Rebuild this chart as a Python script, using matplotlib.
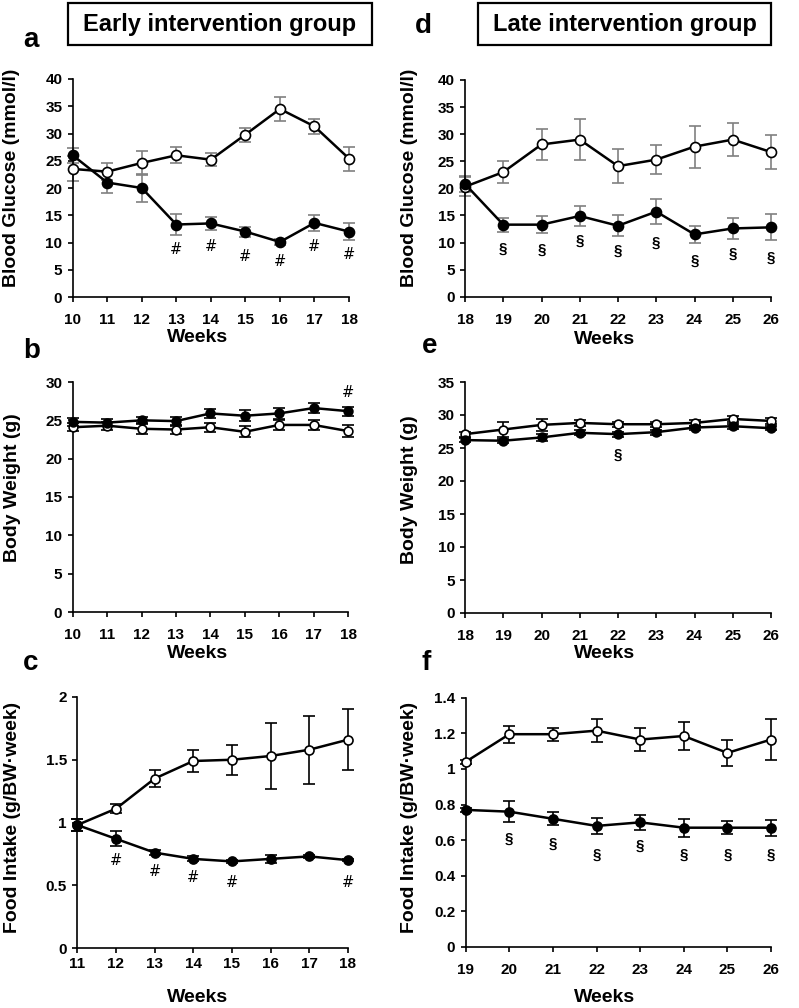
import numpy as np
import matplotlib
matplotlib.use('Agg')
import matplotlib.pyplot as plt
from matplotlib.patches import Rectangle
from matplotlib.ticker import FuncFormatter

plt.rcParams['font.family'] = ['Liberation Sans', 'DejaVu Sans']
plt.rcParams['font.weight'] = 'bold'

W, H = 799, 1008

# ── data ─────────────────────────────────────────────────────────────────────
# a: blood glucose, early group
weeks_a = [10, 11, 12, 13, 14, 15, 16, 17, 18]
gluc_open_a = [23.5, 23.0, 24.6, 26.0, 25.2, 29.8, 34.5, 31.3, 25.4]
gluc_open_a_err = [2.3, 1.5, 2.2, 1.5, 1.2, 1.3, 2.2, 1.4, 2.2]
gluc_fill_a = [26.0, 21.0, 20.0, 13.3, 13.5, 12.0, 10.1, 13.6, 12.0]
gluc_fill_a_err = [1.4, 2.0, 2.6, 1.9, 1.2, 0.9, 0.5, 1.5, 1.5]
sig_a_weeks = [13, 14, 15, 16, 17, 18]
sig_a_y = [8.7, 9.2, 7.5, 6.5, 9.2, 7.8]

# d: blood glucose, late group
weeks_d = [18, 19, 20, 21, 22, 23, 24, 25, 26]
gluc_open_d = [20.3, 23.0, 28.1, 29.0, 24.1, 25.3, 27.7, 29.0, 26.7]
gluc_open_d_err = [1.8, 2.1, 2.9, 3.8, 3.1, 2.7, 3.9, 3.0, 3.2]
gluc_fill_d = [20.8, 13.3, 13.3, 14.9, 13.1, 15.7, 11.5, 12.6, 12.8]
gluc_fill_d_err = [1.5, 1.3, 1.6, 1.8, 1.9, 2.3, 1.6, 1.9, 2.4]
sig_d_weeks = [19, 20, 21, 22, 23, 24, 25, 26]
sig_d_y = [8.8, 8.6, 10.4, 8.4, 10.0, 6.7, 8.0, 7.1]

# b: body weight, early group
bw_open_b = [24.1, 24.3, 23.9, 23.8, 24.1, 23.5, 24.4, 24.4, 23.6]
bw_open_b_err = [0.5, 0.5, 0.7, 0.6, 0.6, 0.7, 0.7, 0.7, 0.8]
bw_fill_b = [24.8, 24.7, 25.0, 24.9, 25.9, 25.6, 25.9, 26.6, 26.2]
bw_fill_b_err = [0.5, 0.5, 0.5, 0.6, 0.6, 0.7, 0.7, 0.7, 0.6]
sig_b_weeks = [18]
sig_b_y = [28.6]

# e: body weight, late group
bw_open_e = [27.1, 27.8, 28.5, 28.8, 28.6, 28.6, 28.8, 29.4, 29.1]
bw_open_e_err = [0.4, 1.2, 0.9, 0.4, 0.4, 0.4, 0.4, 0.5, 0.4]
bw_fill_e = [26.2, 26.1, 26.6, 27.3, 27.1, 27.4, 28.1, 28.3, 28.0]
bw_fill_e_err = [0.3, 0.3, 0.5, 0.4, 0.4, 0.4, 0.3, 0.4, 0.3]
sig_e_weeks = [22]
sig_e_y = [23.9]

# c: food intake, early group
weeks_c = [11, 12, 13, 14, 15, 16, 17, 18]
food_open_c = [0.98, 1.11, 1.35, 1.49, 1.50, 1.53, 1.58, 1.66]
food_open_c_err = [0.05, 0.035, 0.065, 0.09, 0.12, 0.265, 0.27, 0.245]
food_fill_c = [0.98, 0.87, 0.76, 0.71, 0.69, 0.71, 0.73, 0.70]
food_fill_c_err = [0.05, 0.06, 0.02, 0.02, 0.01, 0.035, 0.01, 0.01]
sig_c_weeks = [12, 13, 14, 15, 18]
sig_c_y = [0.70, 0.61, 0.56, 0.52, 0.52]

# f: food intake, late group
weeks_f = [19, 20, 21, 22, 23, 24, 25, 26]
food_open_f = [1.04, 1.195, 1.195, 1.215, 1.165, 1.185, 1.09, 1.165]
food_open_f_err = [0.01, 0.048, 0.037, 0.065, 0.065, 0.077, 0.073, 0.117]
food_fill_f = [0.77, 0.76, 0.72, 0.68, 0.70, 0.67, 0.67, 0.67]
food_fill_f_err = [0.01, 0.059, 0.037, 0.044, 0.042, 0.05, 0.038, 0.045]
sig_f_weeks = [20, 21, 22, 23, 24, 25, 26]
sig_f_y = [0.61, 0.58, 0.52, 0.57, 0.52, 0.52, 0.52]

fig = plt.figure(figsize=(W / 100, H / 100), dpi=100)


def px_axes(left, right, top, bottom):
    return fig.add_axes([left / W, 1 - bottom / H, (right - left) / W, (bottom - top) / H])


def fig_text(x, y, s, **kw):
    fig.text(x / W, 1 - y / H, s, **kw)


def draw_panel(ax, weeks, o, oe, f, fe, ylim, ystep, err_color, ms, sig_w, sig_y, sig_txt,
               label_pad):
    ax.errorbar(weeks, o, yerr=oe, fmt='none', ecolor=err_color, elinewidth=1.2,
                capsize=4, capthick=1.2, zorder=2, clip_on=False)
    ax.errorbar(weeks, f, yerr=fe, fmt='none', ecolor=err_color, elinewidth=1.2,
                capsize=4, capthick=1.2, zorder=2, clip_on=False)
    ax.plot(weeks, o, color='black', lw=1.8, marker='o', ms=ms, mfc='white',
            mec='black', mew=1.2, zorder=3, clip_on=False)
    ax.plot(weeks, f, color='black', lw=1.8, marker='o', ms=ms, mfc='black',
            mec='black', mew=1.2, zorder=4, clip_on=False)
    for w, y in zip(sig_w, sig_y):
        if sig_txt == '#':
            ax.text(w, y, '#', ha='center', va='center', fontsize=10.5,
                    fontweight='normal', family='DejaVu Sans')
        else:
            ax.text(w, y, '§', ha='center', va='center', fontsize=11, fontweight='bold')
    ax.set_xlim(weeks[0], weeks[-1])
    ax.set_ylim(*ylim)
    ax.set_xticks(weeks)
    ax.set_yticks(np.arange(ylim[0], ylim[1] + ystep / 2, ystep))
    ax.yaxis.set_major_formatter(FuncFormatter(lambda v, p: f'{v:g}'))
    for s in ['top', 'right']:
        ax.spines[s].set_visible(False)
    for s in ['left', 'bottom']:
        ax.spines[s].set_linewidth(1.2)
    ax.tick_params(axis='both', direction='out', length=3.5, width=1.2, labelsize=11)
    ax.tick_params(axis='y', pad=4)
    ax.tick_params(axis='x', pad=label_pad)
    for lab in ax.get_xticklabels() + ax.get_yticklabels():
        lab.set_fontweight('bold')
    ax.patch.set_alpha(0)


# ── panels ───────────────────────────────────────────────────────────────────
ax_a = px_axes(72.7, 349, 79, 297)
draw_panel(ax_a, weeks_a, gluc_open_a, gluc_open_a_err, gluc_fill_a, gluc_fill_a_err,
           (0, 40), 5, '#808080', 7.2, sig_a_weeks, sig_a_y, '#', 8)

ax_d = px_axes(465, 771, 80, 296.7)
draw_panel(ax_d, weeks_d, gluc_open_d, gluc_open_d_err, gluc_fill_d, gluc_fill_d_err,
           (0, 40), 5, '#808080', 7.2, sig_d_weeks, sig_d_y, '§', 8)

ax_b = px_axes(72.7, 348, 382, 612)
draw_panel(ax_b, weeks_a, bw_open_b, bw_open_b_err, bw_fill_b, bw_fill_b_err,
           (0, 30), 5, 'black', 6.3, sig_b_weeks, sig_b_y, '#', 8)

ax_e = px_axes(465, 771, 382, 613)
draw_panel(ax_e, weeks_d, bw_open_e, bw_open_e_err, bw_fill_e, bw_fill_e_err,
           (0, 35), 5, 'black', 6.3, sig_e_weeks, sig_e_y, '§', 8)

ax_c = px_axes(77.3, 348, 697, 948)
draw_panel(ax_c, weeks_c, food_open_c, food_open_c_err, food_fill_c, food_fill_c_err,
           (0, 2), 0.5, 'black', 6.5, sig_c_weeks, sig_c_y, '#', 3)

ax_f = px_axes(465.7, 771, 697.7, 947)
draw_panel(ax_f, weeks_f, food_open_f, food_open_f_err, food_fill_f, food_fill_f_err,
           (0, 1.4), 0.2, 'black', 6.5, sig_f_weeks, sig_f_y, '§', 8)

# ── labels ───────────────────────────────────────────────────────────────────
ylab_kw = dict(rotation=90, ha='center', va='center', fontsize=14, fontweight='bold')
fig_text(12, 178, 'Blood Glucose (mmol/l)', **ylab_kw)
fig_text(409, 178, 'Blood Glucose (mmol/l)', **ylab_kw)
fig_text(13, 488, 'Body Weight (g)', **ylab_kw)
fig_text(409, 490, 'Body Weight (g)', **ylab_kw)
fig_text(13, 817, 'Food Intake (g/BW\u00b7week)', **ylab_kw)
fig_text(409, 817, 'Food Intake (g/BW\u00b7week)', **ylab_kw)

wk_kw = dict(ha='center', va='center', fontsize=14, fontweight='bold')
for x, y in [(198, 338), (605, 339), (198, 653), (605, 653), (198, 998), (605, 998)]:
    fig_text(x, y, 'Weeks', **wk_kw)

let_kw = dict(ha='left', va='baseline', fontsize=20, fontweight='bold')
for x, y, s in [(23, 47, 'a'), (415, 33, 'd'), (23, 358, 'b'),
                (422, 353, 'e'), (23, 670, 'c'), (422, 670, 'f')]:
    fig_text(x, y, s, **let_kw)

# group title boxes
for x0, x1, s in [(68, 372, 'Early intervention group'), (478, 771, 'Late intervention group')]:
    fig.patches.append(Rectangle((x0 / W, 1 - 45 / H), (x1 - x0) / W, 42 / H,
                                 transform=fig.transFigure, fill=False,
                                 edgecolor='black', linewidth=1.6))
    fig_text((x0 + x1) / 2, 24, s, ha='center', va='center', fontsize=17, fontweight='bold')

fig.savefig('out.png', dpi=100)
